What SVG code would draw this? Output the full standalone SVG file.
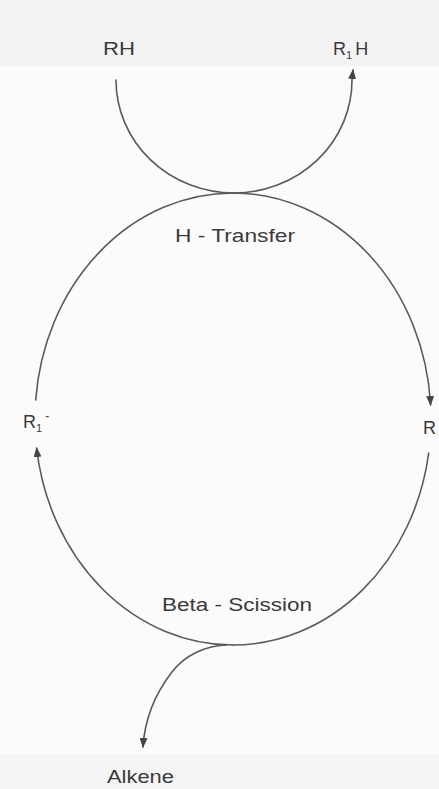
<svg xmlns="http://www.w3.org/2000/svg" width="439" height="789" viewBox="0 0 439 789">
<style>
.ln{fill:none;stroke:#5a5a5a;stroke-width:1.6;stroke-linecap:round}
.t{font-family:"Liberation Sans",Arial,sans-serif;fill:#3a3a3a;font-size:18px}
.sub{font-size:11px}
</style>
<defs>
<marker id="ah" viewBox="0 0 10 8" refX="9" refY="4" markerWidth="10" markerHeight="8" markerUnits="userSpaceOnUse" orient="auto">
<path d="M0,0 L10,4 L0,8 Z" fill="#444"/>
</marker>
</defs>
<rect width="439" height="789" fill="#fbfbfb"/>
<rect width="439" height="66" fill="#f3f3f3"/>
<rect y="755" width="439" height="34" fill="#f5f5f5"/>
<g id="connectors">
<path class="ln" d="M116,80 A118,113 0 0 0 352,80 L353,70" marker-end="url(#ah)"/>
<path class="ln" d="M233,193 A198,226 0 0 1 430.6,405" marker-end="url(#ah)"/>
<path class="ln" d="M428.7,453 A198,226 0 0 1 233,645"/>
<path class="ln" d="M233,645 A198,226 0 0 1 36.6,448" marker-end="url(#ah)"/>
<path class="ln" d="M35.7,400 A198,226 0 0 1 233,193"/>
<path class="ln" d="M226,645 C205,646 185,655 172,672 C158,690 145,715 143,747" marker-end="url(#ah)"/>
</g>
<g id="RH"><text class="t" x="103" y="55" textLength="32" lengthAdjust="spacingAndGlyphs">RH</text></g>
<g id="R1H"><text class="t" x="333" y="55">R<tspan class="sub" dy="4">1</tspan><tspan dy="-4" dx="3">H</tspan></text></g>
<g id="HTransfer"><text class="t" x="235" y="242" text-anchor="middle" textLength="120" lengthAdjust="spacingAndGlyphs">H - Transfer</text></g>
<g id="R"><text class="t" x="423" y="434">R</text></g>
<g id="R1"><text class="t" x="23" y="428">R<tspan class="sub" dy="4">1</tspan><tspan dy="-12" dx="3" font-size="12">-</tspan></text></g>
<g id="BetaScission"><text class="t" x="237" y="611" text-anchor="middle" textLength="150" lengthAdjust="spacingAndGlyphs">Beta - Scission</text></g>
<g id="Alkene"><text class="t" x="107" y="783" textLength="67" lengthAdjust="spacingAndGlyphs">Alkene</text></g>
</svg>
